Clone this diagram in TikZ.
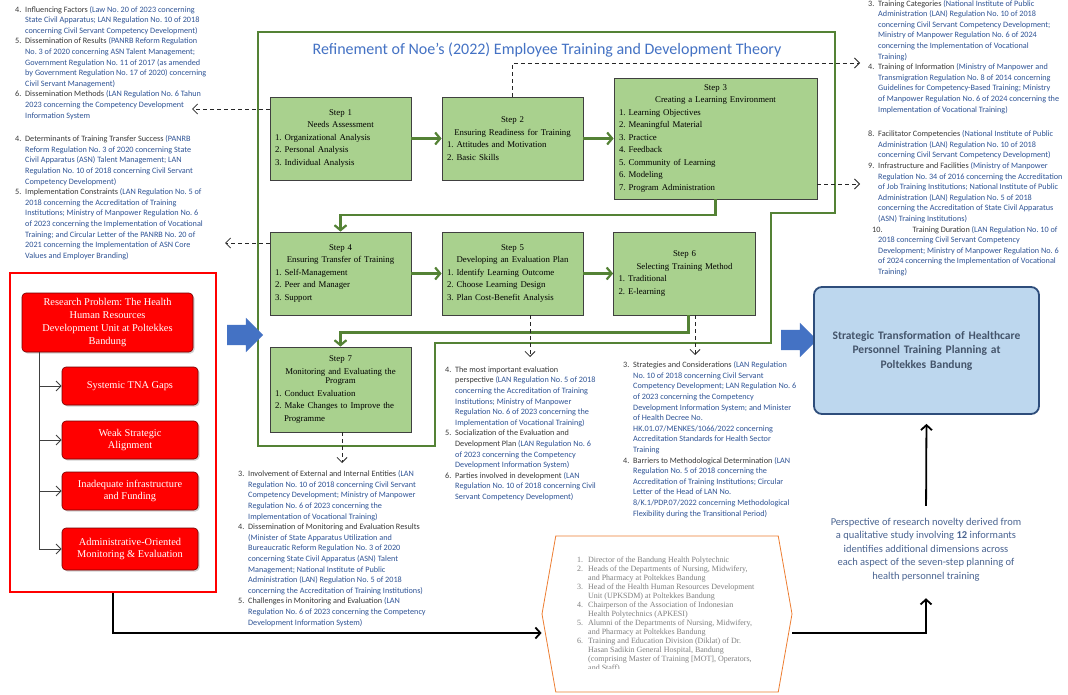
\documentclass[tikz,border=0pt]{standalone}
\usepackage{fontspec}
\setmainfont{Liberation Serif}
\setsansfont{Carlito}
\usepackage{xcolor}
\usepackage{tikz}
\usetikzlibrary{arrows.meta,positioning,shapes.arrows,shapes.symbols,shadows,calc}

\definecolor{stepgreen}{HTML}{A9D18E}
\definecolor{framegreen}{HTML}{548235}
\definecolor{titleblue}{HTML}{4472C4}
\definecolor{lawblue}{HTML}{2F5496}
\definecolor{notegray}{HTML}{3A3A3A}
\definecolor{boxblue}{HTML}{BDD7EE}
\definecolor{boxedge}{HTML}{2E4D7B}
\definecolor{boxtext}{HTML}{44546A}
\definecolor{novblue}{HTML}{4A6491}
\definecolor{hexorange}{HTML}{ED7D31}
\definecolor{listgray}{HTML}{7F7F7F}

\newcommand{\law}[1]{{\color{lawblue}#1}}
\newcommand{\inum}[1]{\makebox[10pt][l]{#1}}
\newcommand{\cont}{\hspace*{10pt}}
\newcommand{\stepitems}[1]{\parbox[t]{\hsize}{\raggedright #1}}

\tikzset{
  stepbox/.style={rectangle, draw=black!75, line width=0.8pt, fill=stepgreen, align=center,
    inner xsep=5pt, text width=#1, font=\fontsize{8.8}{12.5}\selectfont},
  stepbox/.default=131pt,
  notes/.style={align=left, inner sep=0pt, anchor=north west, text=notegray,
    font=\sffamily\fontsize{8.2}{10.6}\selectfont},
  flow/.style={-{Straight Barb[length=5pt,width=12pt]}, draw=framegreen, line width=2.2pt},
  dashlink/.style={->, draw=black!85, line width=0.8pt, dash pattern=on 4pt off 3pt},
  gapbox/.style={rectangle, rounded corners=4pt, fill=red, draw=red!45!black, line width=0.6pt,
    text=white, align=center, minimum width=136pt, minimum height=38pt,
    font=\fontsize{10.4}{12.7}\selectfont,
    drop shadow={opacity=0.35, shadow xshift=1.5pt, shadow yshift=-1.5pt}},
  tree/.style={->, draw=black!75, line width=0.9pt},
  bigarrow/.style={single arrow, fill=titleblue, draw=none, inner sep=0pt, text height=10pt,
    text depth=10pt, minimum height=36pt, single arrow head extend=7pt},
  mainline/.style={-{Straight Barb[length=5pt,width=11pt]}, draw=black, line width=1.8pt}
}

\begin{document}
\frenchspacing
\begin{tikzpicture}[x=1pt, y=-1pt, node distance=172pt, >={Straight Barb[length=5pt,width=10pt]}]
    \useasboundingbox (0,0) rectangle (1068,695);
    \fill[white] (0,0) rectangle (1068,695);

    \draw[framegreen, line width=2.2pt] (258,32) -- (835,32) -- (835,213) -- (771,213) -- (771,343)
        -- (435,343) -- (435,446) -- (258,446) -- cycle;
    \node[font=\sffamily\fontsize{16}{18}\selectfont, text=titleblue] (ttl) at (547,50)
        {Refinement of Noe’s (2022) Employee Training and Development Theory};

    \node[stepbox, minimum height=83pt] (s1) at (340.5,138.5) {Step 1\\Needs Assessment\\\stepitems{1. Organizational Analysis\\2. Personal Analysis\\3. Individual Analysis}};
    \node[stepbox, minimum height=83pt, right of=s1] (s2) {Step 2\\Ensuring Readiness for Training\\\stepitems{1. Attitudes and Motivation\\2. Basic Skills}};
    \node[stepbox=193pt, minimum height=121pt, right of=s2, xshift=31pt] (s3) {Step 3\\Creating a Learning Environment\\\stepitems{1. Learning Objectives\\2. Meaningful Material\\3. Practice\\4. Feedback\\5. Community of Learning\\6. Modeling\\7. Program Administration}};
    \node[stepbox, minimum height=83pt, node distance=135pt, below of=s1] (s4) {Step 4\\Ensuring Transfer of Training\\\stepitems{1. Self-Management\\2. Peer and Manager\\3. Support}};
    \node[stepbox, minimum height=83pt, right of=s4] (s5) {Step 5\\Developing an Evaluation Plan\\\stepitems{1. Identify Learning Outcome\\2. Choose Learning Design\\3. Plan Cost-Benefit Analysis}};
    \node[stepbox=132pt, minimum height=83pt, right of=s5] (s6) {Step 6\\Selecting Training Method\\\stepitems{1. Traditional\\2. E-learning}};
    \node[stepbox, minimum height=85pt, node distance=116pt, below of=s4] (s7) {Step 7\\Monitoring and Evaluating the\\[-3pt]Program\\\stepitems{1. Conduct Evaluation\\2. Make Changes to Improve the\\\hspace*{9pt}Programme}};

    \draw[flow] (s1) -- (s2);
    \draw[flow] (s2) -- (s3);
    \draw[flow] (s3.south) -- ++(0,16) -| (s4.north);
    \draw[flow] (s4) -- (s5);
    \draw[flow] (s5) -- (s6);
    \draw[flow] ([xshift=4pt]s6.south) -- ++(0,17) -| (s7.north);

    \node[notes] (nA) at (15,6) {%
\inum{4.}Influencing Factors \law{(Law No. 20 of 2023 concerning}\\
\cont\law{State Civil Apparatus; LAN Regulation No. 10 of 2018}\\
\cont\law{concerning Civil Servant Competency Development)}\\
\inum{5.}Dissemination of Results \law{(PANRB Reform Regulation}\\
\cont\law{No. 3 of 2020 concerning ASN Talent Management;}\\
\cont\law{Government Regulation No. 11 of 2017 (as amended}\\
\cont\law{by Government Regulation No. 17 of 2020) concerning}\\
\cont\law{Civil Servant Management)}\\
\inum{6.}Dissemination Methods \law{(LAN Regulation No. 6 Tahun}\\
\cont\law{2023 concerning the Competency Development}\\
\cont\law{Information System}};
    \node[notes] (nB) at (15,135.5) {%
\inum{4.}Determinants of Training Transfer Success \law{(PANRB}\\
\cont\law{Reform Regulation No. 3 of 2020 concerning State}\\
\cont\law{Civil Apparatus (ASN) Talent Management; LAN}\\
\cont\law{Regulation No. 10 of 2018 concerning Civil Servant}\\
\cont\law{Competency Development)}\\
\inum{5.}Implementation Constraints \law{(LAN Regulation No. 5 of}\\
\cont\law{2018 concerning the Accreditation of Training}\\
\cont\law{Institutions; Ministry of Manpower Regulation No. 6}\\
\cont\law{of 2023 concerning the Implementation of Vocational}\\
\cont\law{Training; and Circular Letter of the PANRB No. 20 of}\\
\cont\law{2021 concerning the Implementation of ASN Core}\\
\cont\law{Values and Employer Branding)}};
    \node[notes] (nC) at (868,0) {%
\inum{3.}Training Categories \law{(National Institute of Public}\\
\cont\law{Administration (LAN) Regulation No. 10 of 2018}\\
\cont\law{concerning Civil Servant Competency Development;}\\
\cont\law{Ministry of Manpower Regulation No. 6 of 2024}\\
\cont\law{concerning the Implementation of Vocational}\\
\cont\law{Training)}\\
\inum{4.}Training of Information \law{(Ministry of Manpower and}\\
\cont\law{Transmigration Regulation No. 8 of 2014 concerning}\\
\cont\law{Guidelines for Competency-Based Training; Ministry}\\
\cont\law{of Manpower Regulation No. 6 of 2024 concerning the}\\
\cont\law{Implementation of Vocational Training)}};
    \node[notes] (nD) at (868,130.5) {%
\inum{8.}Facilitator Competencies \law{(National Institute of Public}\\
\cont\law{Administration (LAN) Regulation No. 10 of 2018}\\
\cont\law{concerning Civil Servant Competency Development)}\\
\inum{9.}Infrastructure and Facilities \law{(Ministry of Manpower}\\
\cont\law{Regulation No. 34 of 2016 concerning the Accreditation}\\
\cont\law{of Job Training Institutions; National Institute of Public}\\
\cont\law{Administration (LAN) Regulation No. 5 of 2018}\\
\cont\law{concerning the Accreditation of State Civil Apparatus}\\
\cont\law{(ASN) Training Institutions)}\\
\hspace*{4pt}10.\hspace*{30pt}Training Duration \law{(LAN Regulation No. 10 of}\\
\cont\law{2018 concerning Civil Servant Competency}\\
\cont\law{Development; Ministry of Manpower Regulation No. 6}\\
\cont\law{of 2024 concerning the Implementation of Vocational}\\
\cont\law{Training)}};
    \node[notes] (nE) at (445,366.5) {%
\inum{4.}The most important evaluation\\
\cont perspective \law{(LAN Regulation No. 5 of 2018}\\
\cont\law{concerning the Accreditation of Training}\\
\cont\law{Institutions; Ministry of Manpower}\\
\cont\law{Regulation No. 6 of 2023 concerning the}\\
\cont\law{Implementation of Vocational Training)}\\
\inum{5.}Socialization of the Evaluation and\\
\cont Development Plan \law{(LAN Regulation No. 6}\\
\cont\law{of 2023 concerning the Competency}\\
\cont\law{Development Information System)}\\
\inum{6.}Parties involved in development \law{(LAN}\\
\cont\law{Regulation No. 10 of 2018 concerning Civil}\\
\cont\law{Servant Competency Development)}};
    \node[notes] (nF) at (623,361.5) {%
\inum{3.}Strategies and Considerations \law{(LAN Regulation}\\
\cont\law{No. 10 of 2018 concerning Civil Servant}\\
\cont\law{Competency Development; LAN Regulation No. 6}\\
\cont\law{of 2023 concerning the Competency}\\
\cont\law{Development Information System; and Minister}\\
\cont\law{of Health Decree No.}\\
\cont\law{HK.01.07/MENKES/1066/2022 concerning}\\
\cont\law{Accreditation Standards for Health Sector}\\
\cont\law{Training}\\
\inum{4.}Barriers to Methodological Determination \law{(LAN}\\
\cont\law{Regulation No. 5 of 2018 concerning the}\\
\cont\law{Accreditation of Training Institutions; Circular}\\
\cont\law{Letter of the Head of LAN No.}\\
\cont\law{8/K.1/PDP.07/2022 concerning Methodological}\\
\cont\law{Flexibility during the Transitional Period)}};
    \node[notes] (nG) at (238,470.5) {%
\inum{3.}Involvement of External and Internal Entities \law{(LAN}\\
\cont\law{Regulation No. 10 of 2018 concerning Civil Servant}\\
\cont\law{Competency Development; Ministry of Manpower}\\
\cont\law{Regulation No. 6 of 2023 concerning the}\\
\cont\law{Implementation of Vocational Training)}\\
\inum{4.}Dissemination of Monitoring and Evaluation Results\\
\cont\law{(Minister of State Apparatus Utilization and}\\
\cont\law{Bureaucratic Reform Regulation No. 3 of 2020}\\
\cont\law{concerning State Civil Apparatus (ASN) Talent}\\
\cont\law{Management; National Institute of Public}\\
\cont\law{Administration (LAN) Regulation No. 5 of 2018}\\
\cont\law{concerning the Accreditation of Training Institutions)}\\
\inum{5.}Challenges in Monitoring and Evaluation \law{(LAN}\\
\cont\law{Regulation No. 6 of 2023 concerning the Competency}\\
\cont\law{Development Information System)}};

    \coordinate (tipA) at (192,109);
    \coordinate (tipB) at (225,243);
    \coordinate (tipC) at (860,63);
    \coordinate (tipD) at (860,184);
    \coordinate (tipE) at (530,357);
    \coordinate (tipF) at (695,355);
    \coordinate (tipG) at (342,463);
    \draw[dashlink] (s1.west |- tipA) -- (tipA);
    \draw[dashlink] (s4.west |- tipB) -- (tipB);
    \draw[dashlink] (s2.north) |- (tipC);
    \draw[dashlink] (s3.east |- tipD) -- (tipD);
    \draw[dashlink] (s5.south -| tipE) -- (tipE);
    \draw[dashlink] (s6.south -| tipF) -- (tipF);
    \draw[dashlink] (s7.south -| tipG) -- (tipG);

    \node[draw=red, line width=2pt, fill=white, minimum width=206pt, minimum height=319pt] (rb) at (113,432.5) {};
    \node[gapbox, minimum width=171pt, minimum height=59pt] (rp) at (107.5,322.5) {Research Problem: The Health\\Human Resources\\Development Unit at Poltekkes\\Bandung};
    \node[gapbox] (g1) at (130,386) {Systemic TNA Gaps};
    \node[gapbox] (g2) at (130,440) {Weak Strategic\\Alignment};
    \node[gapbox] (g3) at (130,491) {Inadequate infrastructure\\and Funding};
    \node[gapbox, minimum height=42pt] (g4) at (130,549) {Administrative-Oriented\\Monitoring \& Evaluation};
    \coordinate (trk) at (39,0);
    \draw[tree] (rp.south -| trk) |- (g1.west);
    \draw[tree] (rp.south -| trk) |- (g2.west);
    \draw[tree] (rp.south -| trk) |- (g3.west);
    \draw[tree] (rp.south -| trk) |- (g4.west);

    \node[bigarrow] (ba1) at (240,335) {};
    \node[bigarrow] (ba2) at (794,340) {};

    \node[draw=boxedge, line width=1.8pt, fill=boxblue, rounded corners=8pt, minimum width=225pt,
        minimum height=127pt, text width=212pt, align=center, text=boxtext,
        font=\sffamily\bfseries\fontsize{11.5}{14.5}\selectfont] (bb) at (926.5,350.5)
        {Strategic Transformation of Healthcare\\Personnel Training Planning at\\Poltekkes Bandung};
    \node[align=center, text=novblue, inner sep=0pt, font=\sffamily\fontsize{10.5}{13.5}\selectfont] (nov) at (926,549.5)
        {Perspective of research novelty derived from\\a qualitative study involving \textbf{12} informants\\identifies additional dimensions across\\each aspect of the seven-step planning of\\health personnel training};
    \draw[mainline, shorten <=12pt, shorten >=9pt] (nov.north) -- (bb.south);

    \node[signal, signal to=east and west, signal pointer angle=160, draw=hexorange, line width=0.8pt,
        minimum width=250pt, minimum height=156pt] (hex) at (667,614) {};
    \begin{scope}
        \clip (560,540) rectangle (780,668);
        \node[align=left, inner sep=0pt, anchor=north west, text=listgray,
            font=\fontsize{8}{9}\selectfont] (inf) at (577,557) {%
\makebox[11pt][l]{1.}Director of the Bandung Health Polytechnic\\
\makebox[11pt][l]{2.}Heads of the Departments of Nursing, Midwifery,\\
\hspace*{11pt}and Pharmacy at Poltekkes Bandung\\
\makebox[11pt][l]{3.}Head of the Health Human Resources Development\\
\hspace*{11pt}Unit (UPKSDM) at Poltekkes Bandung\\
\makebox[11pt][l]{4.}Chairperson of the Association of Indonesian\\
\hspace*{11pt}Health Polytechnics (APKESI)\\
\makebox[11pt][l]{5.}Alumni of the Departments of Nursing, Midwifery,\\
\hspace*{11pt}and Pharmacy at Poltekkes Bandung\\
\makebox[11pt][l]{6.}Training and Education Division (Diklat) of Dr.\\
\hspace*{11pt}Hasan Sadikin General Hospital, Bandung\\
\hspace*{11pt}(comprising Master of Training [MOT], Operators,\\
\hspace*{11pt}and Staff)};
    \end{scope}

    \draw[mainline] (rb.south) |- ([yshift=-19pt]hex.west);
    \draw[mainline, shorten >=17pt] ([yshift=-19pt]hex.east) -| (nov.south);
\end{tikzpicture}
\end{document}
